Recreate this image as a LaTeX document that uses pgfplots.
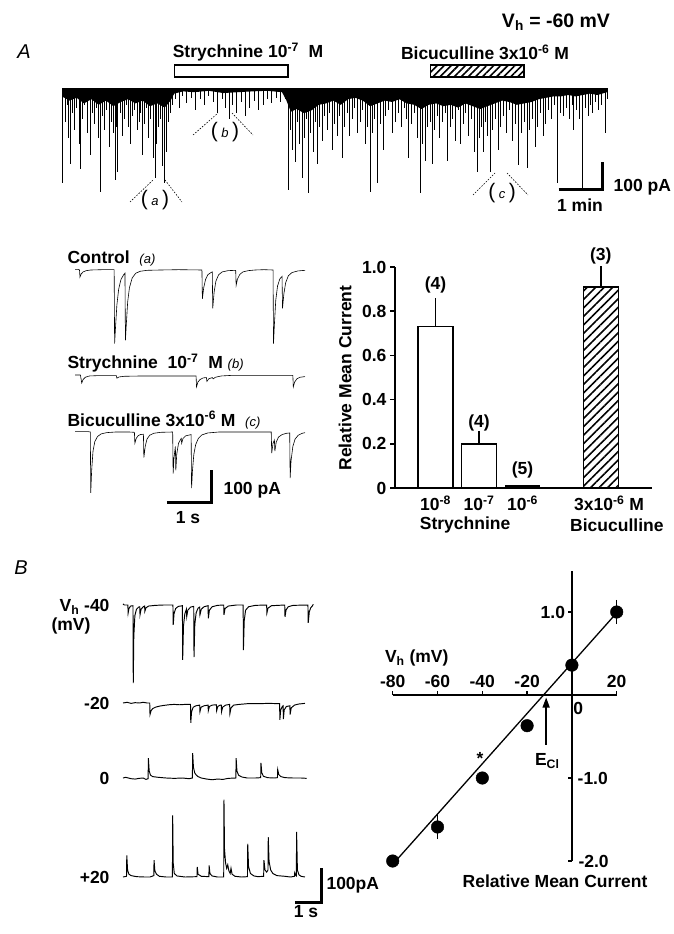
\documentclass[border=0pt]{standalone}
\usepackage{pgfplots}
\pgfplotsset{compat=1.18}
\usepackage{fontspec}
\setmainfont{Liberation Sans}
\usetikzlibrary{patterns.meta,arrows.meta}

\newcommand{\lbl}{\fontsize{17.5}{19}\selectfont\bfseries}
\newcommand{\tag}[1]{{\fontsize{21}{21}\selectfont(\,{\fontsize{13}{13}\selectfont\itshape #1}\,)}}

\pgfplotsset{
  trace/.style={scale only axis, axis lines=none, clip=false, anchor=south west,
    xmin=0, every axis plot post/.append style={black, line width=0.6pt, mark=none}},
  btrace/.style={trace, every axis plot post/.append style={line width=0.95pt}},
}

\begin{document}
\begin{tikzpicture}
\useasboundingbox (0,0) rectangle (673pt,-934pt);
\fill[white] (0,0) rectangle (673pt,-934pt);

% ---------------- panel A, long recording (time in s, current in pA)
\begin{axis}[trace, at={(62pt,-200pt)}, width=545pt, height=140pt,
  xmax=743, ymin=-400, ymax=100]
\addplot[fill=black!85, draw=none] coordinates {
  (0,-30)(10,-45)(20,-35)(30,-55)(40,-40)(50,-60)(60,-45)(70,-65)(80,-50)
  (90,-40)(100,-55)(110,-45)(120,-65)(130,-55)(140,-70)(148,-45)(153,-20)
  (165,-12)(180,-15)(200,-10)(220,-18)(240,-15)(260,-12)(280,-10)(300,-15)
  (306,-45)(312,-85)(320,-75)(330,-90)(340,-80)(350,-60)(360,-55)(370,-45)
  (380,-60)(390,-40)(400,-35)(410,-45)(420,-65)(430,-55)(440,-45)(450,-50)
  (460,-40)(470,-55)(480,-60)(490,-75)(500,-60)(510,-55)(520,-65)(530,-60)
  (540,-70)(550,-55)(560,-65)(570,-75)(580,-65)(590,-55)(600,-45)(610,-50)
  (620,-60)(630,-55)(640,-50)(650,-40)(660,-35)(670,-30)(680,-30)(690,-25)
  (700,-30)(710,-25)(720,-20)(730,-25)(743,-15)} \closedcycle;
\addplot[ycomb, line width=0.7pt] coordinates {
  (1,-340)(4,-120)(7,-60)(9,-180)(11,-270)(14,-90)(17,-150)(20,-70)(23,-200)
  (25,-290)(28,-110)(31,-60)(34,-160)(38,-240)(41,-90)(44,-130)(47,-70)(50,-180)
  (52,-370)(55,-100)(58,-150)(61,-80)(64,-210)(67,-120)(70,-160)(72,-330)(74,-140)
  (76,-300)(79,-90)(82,-170)(85,-110)(88,-60)(91,-140)(93,-200)(96,-100)(99,-80)
  (102,-150)(105,-120)(107,-90)(109,-240)(112,-130)(115,-70)(118,-180)(121,-110)
  (124,-250)(127,-320)(129,-200)(131,-140)(134,-110)(137,-280)(140,-340)(142,-230)
  (145,-120)(147,-90)(150,-60)
  (155,-40)(160,-70)(164,-30)(170,-55)(176,-35)(182,-80)(188,-40)(194,-60)(200,-30)
  (206,-50)(212,-90)(218,-40)(222,-70)(228,-110)(232,-60)(238,-90)(244,-50)
  (250,-100)(256,-70)(262,-45)(268,-80)(274,-60)(280,-40)(286,-55)(292,-35)
  (298,-50)(304,-40)
  (308,-365)(311,-150)(314,-220)(318,-265)(321,-120)(324,-200)(327,-320)(330,-180)
  (333,-110)(336,-375)(339,-160)(342,-230)(345,-120)(348,-270)(351,-140)(355,-190)
  (358,-100)(361,-150)(365,-90)(368,-220)(371,-130)(375,-170)(378,-100)(382,-250)
  (385,-140)(389,-90)(392,-170)(396,-110)(399,-70)(402,-160)(406,-120)(410,-80)
  (413,-200)(416,-140)(420,-370)(423,-160)(426,-110)(430,-340)(434,-130)(438,-220)
  (441,-100)(445,-80)(450,-160)(454,-120)(458,-90)(462,-140)(466,-70)(469,-110)
  (472,-250)(476,-130)(480,-90)(484,-180)(488,-375)(491,-200)(495,-260)(498,-140)
  (502,-120)(505,-270)(508,-150)(512,-100)(515,-180)(519,-120)(522,-90)(525,-260)
  (529,-140)(532,-110)(536,-190)(540,-80)(543,-200)(547,-130)(550,-90)(554,-170)
  (558,-110)(562,-230)(566,-300)(569,-180)(572,-140)(574,-230)(577,-120)(580,-170)
  (584,-300)(587,-150)(591,-110)(595,-220)(598,-140)(602,-100)(606,-160)(610,-80)
  (614,-190)(618,-130)(622,-275)(626,-160)(630,-120)
  (634,-285)(637,-150)(641,-110)(645,-210)(648,-140)(652,-90)(656,-170)(659,-130)
  (663,-80)(667,-110)(671,-60)(675,-340)(679,-90)(683,-100)(687,-70)(691,-110)
  (695,-60)(697,-150)(701,-80)(705,-110)(709,-365)(713,-70)(717,-100)(720,-60)
  (723,-90)(727,-50)(731,-80)(735,-60)(740,-160)(743,-40)};
\addplot[line width=3pt] coordinates {(0,0)(743,0)};
\draw[line width=1.3pt, fill=white] (axis cs:153,39) rectangle (axis cs:308,82);
\draw[line width=1.3pt, pattern={Lines[angle=45,distance=5pt,line width=1.6pt]}]
  (axis cs:502,39) rectangle (axis cs:630,82);
\draw[line width=3pt, line join=miter] (axis cs:677,-364) -- (axis cs:737,-364) -- (axis cs:737,-264);
\end{axis}

\node[font=\fontsize{19.5}{21}\selectfont\bfseries] at (556pt,-22pt) {V\textsubscript{h} = -60 mV};
\node[font=\fontsize{20}{20}\selectfont\itshape] at (24pt,-52pt) {A};
\node[font=\lbl] at (248pt,-52pt) {Strychnine 10\textsuperscript{-7}\ \ M};
\node[font=\lbl] at (485pt,-52pt) {Bicuculline 3x10\textsuperscript{-6} M};
\node[font=\lbl, anchor=west] at (610pt,-187pt) {100 pA};
\node[font=\lbl] at (580pt,-205pt) {1 min};
\node at (155pt,-200pt) {\tag{a}};
\node at (225pt,-132pt) {\tag{b}};
\node at (502pt,-193pt) {\tag{c}};
\begin{scope}[line width=0.6pt, dash pattern=on 1.5pt off 1.5pt]
\draw (130pt,-202pt) -- (153pt,-180pt); \draw (165pt,-180pt) -- (182pt,-202pt);
\draw (193pt,-135pt) -- (218pt,-113pt); \draw (232pt,-113pt) -- (253pt,-135pt);
\draw (473pt,-195pt) -- (495pt,-173pt); \draw (507pt,-173pt) -- (528pt,-195pt);
\end{scope}

% ---------------- panel A, expanded traces (s, pA)
\begin{axis}[trace, at={(75pt,-350pt)}, width=230pt, height=83.2pt,
  xmax=5.11, ymin=-250, ymax=10]
\addplot coordinates {
  (0.00,2)(0.08,2)(0.10,0)(0.11,-22)(0.14,-12)(0.18,-6)(0.25,-2)(0.35,0)(0.6,1)(0.87,1)
  (0.88,-230)(0.90,-180)(0.93,-110)(0.97,-60)(1.02,-30)(1.08,-15)(1.11,-10)
  (1.12,-220)(1.14,-170)(1.17,-100)(1.21,-55)(1.27,-25)(1.35,-10)(1.45,-4)(1.6,-1)
  (1.9,0)(2.3,1)(2.82,0)
  (2.83,-90)(2.86,-55)(2.90,-30)(2.95,-15)(3.02,-8)(3.05,-6)
  (3.06,-120)(3.09,-70)(3.13,-35)(3.19,-15)(3.27,-6)(3.40,-2)(3.57,-1)
  (3.58,-48)(3.61,-28)(3.66,-14)(3.73,-6)(3.85,-2)(4.0,0)(4.2,1)(4.40,0)
  (4.41,-230)(4.43,-170)(4.46,-95)(4.50,-50)(4.55,-28)(4.60,-20)
  (4.61,-120)(4.64,-75)(4.68,-40)(4.74,-18)(4.82,-8)(4.95,-3)(5.11,-1)};
\end{axis}
\begin{axis}[trace, at={(75pt,-391pt)}, width=230pt, height=19.2pt,
  xmax=5.11, ymin=-50, ymax=10]
\addplot coordinates {
  (0.00,0)(0.12,0)(0.15,-25)(0.18,-14)(0.23,-7)(0.32,-3)(0.5,-2)(0.92,-2)(0.93,-10)
  (0.98,-6)(1.1,-4)(1.5,-3)(2.0,-3)(2.69,-3)(2.70,-37)(2.73,-22)(2.78,-14)(2.85,-9)
  (2.92,-8)(2.93,-20)(2.97,-12)(3.05,-8)(3.07,-12)(3.12,-7)(3.25,-3)(3.5,-1)(4.0,-1)
  (4.5,-1)(4.84,-1)(4.85,-37)(4.88,-22)(4.93,-12)(5.0,-7)(5.11,-5)};
\end{axis}
\begin{axis}[trace, at={(75pt,-505.6pt)}, width=230pt, height=76.8pt,
  xmax=5.11, ymin=-230, ymax=10]
\addplot coordinates {
  (0.00,1)(0.30,1)(0.34,0)(0.35,-190)(0.37,-120)(0.40,-60)(0.44,-30)(0.50,-14)
  (0.58,-6)(0.7,-2)(0.9,0)(1.2,0)(1.32,-1)
  (1.33,-35)(1.36,-20)(1.40,-12)(1.45,-8)(1.52,-7)
  (1.53,-80)(1.56,-45)(1.60,-22)(1.66,-10)(1.75,-4)(1.9,-1)(2.17,0)
  (2.18,-130)(2.20,-80)(2.23,-45)(2.24,-120)(2.26,-70)(2.30,-35)(2.36,-20)(2.37,-35)
  (2.40,-20)(2.46,-12)(2.55,-9)(2.58,-8)
  (2.59,-175)(2.61,-120)(2.64,-70)(2.68,-40)(2.74,-20)(2.82,-9)(2.95,-3)(3.2,0)
  (3.8,0)(4.36,0)
  (4.37,-66)(4.40,-35)(4.43,-25)(4.44,-60)(4.47,-32)(4.52,-16)(4.60,-8)(4.70,-4)(4.77,-3)
  (4.78,-144)(4.80,-90)(4.84,-45)(4.89,-22)(4.96,-10)(5.05,-4)(5.11,-2)};
\draw[line width=3pt, line join=miter] (axis cs:2.04,-219) -- (axis cs:3.04,-219) -- (axis cs:3.04,-119);
\end{axis}
\node[font=\lbl, anchor=west] at (64pt,-259pt) {Control\ \ {\mdseries\itshape\fontsize{13}{13}\selectfont(a)}};
\node[font=\lbl, anchor=west] at (64pt,-363pt) {Strychnine\ \ 10\textsuperscript{-7}\ \ M {\mdseries\itshape\fontsize{13}{13}\selectfont(b)}};
\node[font=\lbl, anchor=west] at (64pt,-420pt) {Bicuculline 3x10\textsuperscript{-6} M\ \ {\mdseries\itshape\fontsize{13}{13}\selectfont(c)}};
\node[font=\lbl, anchor=west] at (220pt,-490pt) {100 pA};
\node[font=\lbl] at (188pt,-518pt) {1 s};

% ---------------- panel A, bar graph
\begin{axis}[scale only axis, clip=false, anchor=south west, at={(395pt,-488pt)},
  width=257pt, height=221pt, xmin=0.069, xmax=5.977, ymin=0, ymax=1,
  axis x line*=bottom, axis y line*=left,
  axis line style={line width=1.6pt}, xtick=\empty,
  ytick={0,0.2,0.4,0.6,0.8,1}, yticklabels={0,0.2,0.4,0.6,0.8,1.0},
  tick align=outside, major tick length=5pt, tick style={line width=1.6pt, black},
  yticklabel style={font=\lbl}]
\addplot[ybar, bar width=0.8, fill=white, draw=black, line width=1.4pt,
  error bars/.cd, y dir=plus, y explicit, error bar style={line width=1.4pt},
  error mark options={line width=1.4pt, mark size=4pt}]
  coordinates {(1,0.73) +- (0,0.11) (2,0.20) +- (0,0.04)};
\addplot[ybar, bar width=0.8, fill=black, draw=black, line width=1pt]
  coordinates {(3,0.012)};
\addplot[ybar, bar width=0.8, draw=black, line width=1.4pt,
  postaction={pattern={Lines[angle=45,distance=6pt,line width=1.6pt]}},
  error bars/.cd, y dir=plus, y explicit, error bar style={line width=1.4pt},
  error mark options={line width=1.4pt, mark size=4pt}]
  coordinates {(4.8,0.91) +- (0,0.075)};
\node[font=\lbl] at (axis cs:1,0.92) {(4)};
\node[font=\lbl] at (axis cs:2,0.295) {(4)};
\node[font=\lbl] at (axis cs:3,0.08) {(5)};
\node[font=\lbl] at (axis cs:4.8,1.05) {(3)};
\node[font=\lbl] at (axis cs:1,-0.07) {10\textsuperscript{-8}};
\node[font=\lbl] at (axis cs:2,-0.07) {10\textsuperscript{-7}};
\node[font=\lbl] at (axis cs:3,-0.07) {10\textsuperscript{-6}};
\node[font=\lbl] at (axis cs:4.99,-0.07) {3x10\textsuperscript{-6} M};
\node[font=\lbl] at (axis cs:1.68,-0.167) {Strychnine};
\node[font=\lbl] at (axis cs:5.17,-0.167) {Bicuculline};
\end{axis}
\node[font=\lbl, rotate=90] at (345pt,-378pt) {Relative Mean Current};

% ---------------- panel B, traces (s, pA)
\begin{axis}[btrace, at={(123pt,-689pt)}, width=189pt, height=87.5pt,
  xmax=7, ymin=-240, ymax=10]
\addplot coordinates {
  (0.00,3)(0.05,0)(0.18,0)(0.19,-23)(0.22,-10)(0.28,-3)(0.37,-2)(0.38,-223)(0.40,-90)
  (0.44,-30)(0.50,-12)(0.58,-6)(0.62,-5)(0.63,-28)(0.67,-12)(0.75,-5)(0.80,-3)(0.81,-18)
  (0.85,-8)(0.95,-3)(1.2,-1)(1.5,0)(1.85,0)(1.86,-57)(1.89,-25)(1.95,-10)(2.05,-4)
  (2.20,-2)(2.21,-157)(2.24,-60)(2.29,-25)(2.35,-12)(2.36,-33)(2.40,-15)(2.50,-6)
  (2.62,-4)(2.63,-149)(2.66,-55)(2.71,-22)(2.78,-9)(2.84,-6)(2.85,-28)(2.90,-12)
  (3.0,-5)(3.15,-2)(3.16,-38)(3.20,-15)(3.3,-5)(3.5,-1)(3.73,0)(3.74,-28)(3.78,-10)
  (3.9,-3)(4.2,0)(4.45,0)(4.46,-129)(4.49,-45)(4.54,-15)(4.65,-5)(4.9,-1)(5.32,0)
  (5.33,-23)(5.37,-9)(5.5,-2)(5.99,0)(6.00,-34)(6.04,-14)(6.12,-5)(6.3,-1)(6.85,0)
  (6.86,-51)(6.90,-20)(6.95,-8)(7.0,-4)(7.05,2)};
\end{axis}
\begin{axis}[btrace, at={(123pt,-727.5pt)}, width=189pt, height=28pt,
  xmax=7, ymin=-70, ymax=10]
\addplot coordinates {
  (0.00,0)(0.15,2)(0.3,-1)(0.45,1)(0.6,0)(0.75,2)(0.9,0)(0.99,0)(1.00,-33)(1.04,-22)
  (1.10,-16)(1.2,-12)(1.35,-9)(1.5,-7)(1.7,-5)(1.9,-4)(2.1,-5)(2.3,-4)(2.50,-4)
  (2.51,-57)(2.54,-25)(2.60,-12)(2.70,-8)(2.84,-6)(2.85,-25)(2.89,-12)(3.0,-8)(3.15,-6)
  (3.16,-22)(3.2,-10)(3.3,-6)(3.46,-5)(3.47,-22)(3.51,-10)(3.6,-6)(3.64,-6)(3.65,-25)
  (3.69,-12)(3.8,-6)(3.95,-4)(3.96,-30)(4.0,-14)(4.1,-6)(4.3,-4)(4.6,-2)(5.0,-2)
  (5.4,-1)(5.8,-2)(5.81,-48)(5.84,-20)(5.90,-10)(5.93,-8)(5.94,-46)(5.97,-20)(6.05,-10)
  (6.18,-8)(6.19,-33)(6.23,-14)(6.35,-6)(6.5,-3)(6.74,-1)};
\end{axis}
\begin{axis}[btrace, at={(123pt,-781.5pt)}, width=189pt, height=31.5pt,
  xmax=7, ymin=-10, ymax=80]
\addplot coordinates {
  (0.00,0)(0.1,2)(0.2,0)(0.3,-2)(0.45,-3)(0.6,-1)(0.75,0)(0.85,-4)(0.93,-2)(0.94,57)
  (0.97,20)(1.02,8)(1.1,4)(1.3,2)(1.6,0)(1.9,-1)(2.2,0)(2.45,-2)(2.57,0)(2.58,71)
  (2.61,30)(2.66,14)(2.72,8)(2.78,4)(2.9,0)(3.1,-3)(3.3,-5)(3.5,-3)(3.7,-4)(3.9,-1)
  (4.18,0)(4.19,57)(4.22,20)(4.28,8)(4.4,3)(4.6,0)(4.9,0)(5.10,1)(5.11,43)(5.14,15)
  (5.2,5)(5.35,1)(5.6,0)(5.72,1)(5.73,24)(5.77,10)(5.85,4)(6.0,1)(6.3,0)(6.6,0)(6.80,-1)};
\end{axis}
\begin{axis}[btrace, at={(123pt,-905pt)}, width=189pt, height=112pt,
  xmax=7, ymin=-80, ymax=240]
\addplot coordinates {
  (0.00,0)(0.13,2)(0.14,62)(0.17,20)(0.22,8)(0.3,4)(0.5,1)(0.8,0)(1.0,0)(1.14,4)
  (1.15,48)(1.18,18)(1.24,8)(1.35,2)(1.6,0)(1.83,0)(1.84,176)(1.86,40)(1.90,10)(2.0,3)
  (2.3,0)(2.74,1)(2.75,29)(2.78,8)(2.9,2)(3.18,1)(3.19,33)(3.22,10)(3.3,3)(3.5,0)
  (3.73,0)(3.74,221)(3.76,80)(3.80,40)(3.84,25)(3.88,35)(3.92,18)(3.97,10)(4.0,25)
  (4.04,8)(4.15,2)(4.4,0)(4.61,1)(4.62,95)(4.65,30)(4.72,10)(4.85,3)(5.0,1)(5.21,2)
  (5.22,48)(5.26,20)(5.32,14)(5.37,20)(5.38,114)(5.41,45)(5.47,20)(5.55,10)(5.7,4)
  (6.0,2)(6.2,0)(6.35,2)(6.36,12)(6.4,4)(6.42,3)(6.43,129)(6.46,20)(6.52,6)(6.6,2)(6.74,0)};
\draw[line width=3pt, line join=miter] (axis cs:6.37,-74) -- (axis cs:7.37,-74) -- (axis cs:7.37,26);
\end{axis}
\node[font=\fontsize{20}{20}\selectfont\itshape] at (21pt,-568pt) {B};
\node[font=\lbl, anchor=east] at (113pt,-607pt) {V\textsubscript{h}\ -40};
\node[font=\lbl] at (71pt,-626pt) {(mV)};
\node[font=\lbl, anchor=east] at (113pt,-703pt) {-20};
\node[font=\lbl, anchor=east] at (113pt,-778pt) {0};
\node[font=\lbl, anchor=east] at (113pt,-877pt) {+20};
\node[font=\lbl, anchor=west] at (323pt,-885pt) {100pA};
\node[font=\lbl] at (306pt,-912pt) {1 s};

% ---------------- panel B, I-V relation
\begin{axis}[scale only axis, axis lines=none, clip=false, anchor=south west,
  at={(392.7pt,-861pt)}, width=224pt, height=290.5pt,
  xmin=-80, xmax=20, ymin=-2, ymax=1.5]
\draw[line width=1.3pt] (axis cs:-80,0) -- (axis cs:20,0);
\draw[line width=1.3pt] (axis cs:0,-2) -- (axis cs:0,1.5);
\draw[line width=1.3pt] (axis cs:-80,0) -- ([yshift=4pt]axis cs:-80,0);
\draw[line width=1.3pt] (axis cs:-60,0) -- ([yshift=4pt]axis cs:-60,0);
\draw[line width=1.3pt] (axis cs:-40,0) -- ([yshift=4pt]axis cs:-40,0);
\draw[line width=1.3pt] (axis cs:-20,0) -- ([yshift=4pt]axis cs:-20,0);
\draw[line width=1.3pt] (axis cs:20,0) -- ([yshift=4pt]axis cs:20,0);
\draw[line width=1.3pt] (axis cs:0,1) -- ([xshift=-4pt]axis cs:0,1);
\draw[line width=1.3pt] (axis cs:0,-1) -- ([xshift=-4pt]axis cs:0,-1);
\draw[line width=1.3pt] (axis cs:0,-2) -- ([xshift=-4pt]axis cs:0,-2);
\addplot[line width=1.3pt] coordinates {(-78,-1.98)(19,0.96)};
\addplot[only marks, mark=*, mark size=6.3pt,
  error bars/.cd, y dir=both, y explicit, error bar style={line width=1pt},
  error mark options={line width=1pt, mark size=3pt}]
  coordinates {(-80,-2.0) +- (0,0) (-60,-1.59) +- (0,0.11) (-40,-1.0) +- (0,0)
    (-20,-0.37) +- (0,0) (0,0.36) +- (0,0) (20,1.0) +- (0,0.11)};
\draw[-{Triangle[length=10pt,width=7pt]}, line width=1.3pt]
  (axis cs:-11.5,-0.6) -- (axis cs:-11.5,-0.03);
\node[font=\lbl] at (axis cs:-80,0.16) {-80};
\node[font=\lbl] at (axis cs:-60,0.16) {-60};
\node[font=\lbl] at (axis cs:-40,0.16) {-40};
\node[font=\lbl] at (axis cs:-20,0.16) {-20};
\node[font=\lbl] at (axis cs:20,0.16) {20};
\node[font=\lbl] at (axis cs:2.8,-0.16) {0};
\node[font=\lbl, anchor=east] at (axis cs:-1.5,1) {1.0};
\node[font=\lbl, anchor=west] at (axis cs:1,-1) {-1.0};
\node[font=\lbl, anchor=west] at (axis cs:1.4,-2) {-2.0};
\node[font=\lbl] at (axis cs:-41,-0.77) {*};
\node[font=\lbl] at (axis cs:-11,-0.8) {E\textsubscript{Cl}};
\node[font=\lbl, anchor=west] at (axis cs:-85,0.45) {V\textsubscript{h} (mV)};
\node[font=\lbl] at (axis cs:-7.5,-2.24) {Relative Mean Current};
\end{axis}
\end{tikzpicture}
\end{document}
